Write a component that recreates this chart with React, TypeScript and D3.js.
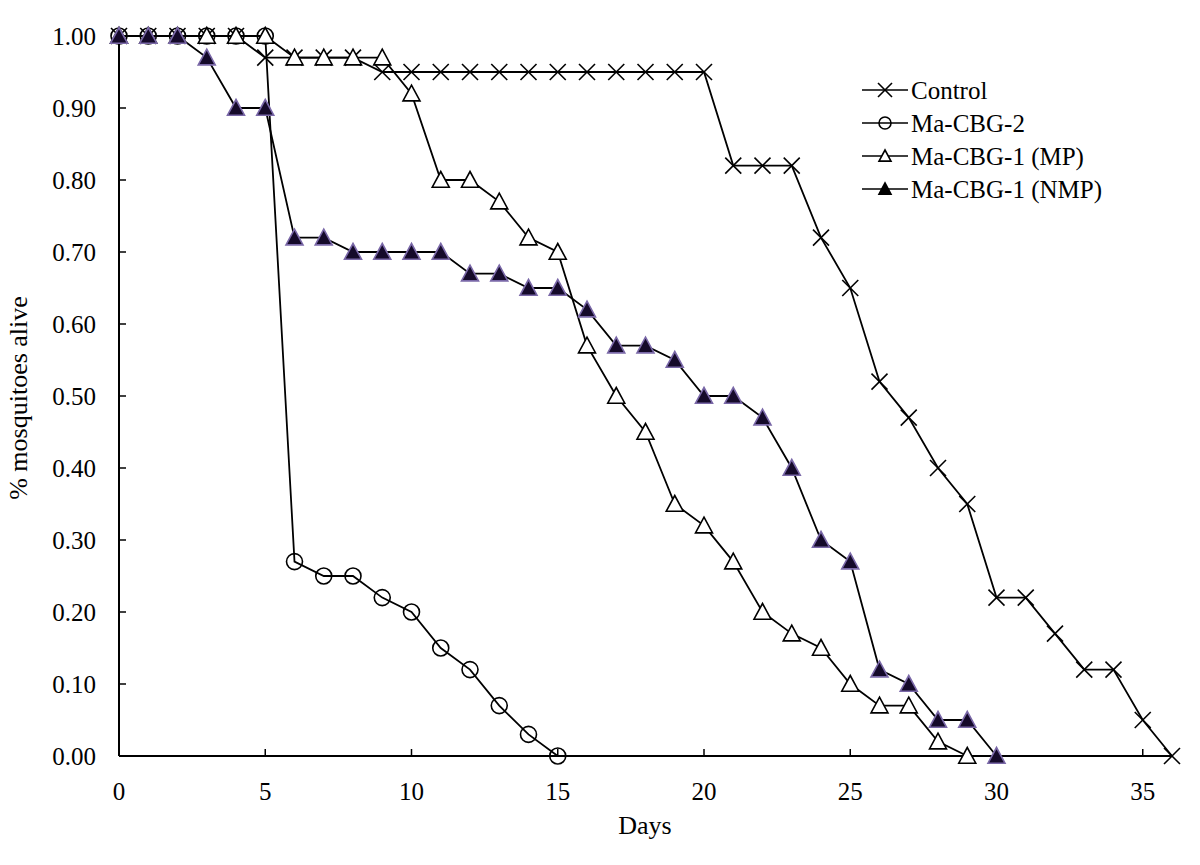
import React from "react";
import * as d3 from "d3";

const days = d3.range(0, 37);
const controlVals = [1, 1, 1, 1, 1, 0.97, 0.97, 0.97, 0.97, 0.95, 0.95, 0.95, 0.95, 0.95, 0.95, 0.95, 0.95, 0.95, 0.95, 0.95, 0.95, 0.82, 0.82, 0.82, 0.72, 0.65, 0.52, 0.47, 0.40, 0.35, 0.22, 0.22, 0.17, 0.12, 0.12, 0.05, 0];
const cbg2Vals = [1, 1, 1, 1, 1, 1, 0.27, 0.25, 0.25, 0.22, 0.20, 0.15, 0.12, 0.07, 0.03, 0];
const mpVals = [1, 1, 1, 1, 1, 1, 0.97, 0.97, 0.97, 0.97, 0.92, 0.80, 0.80, 0.77, 0.72, 0.70, 0.57, 0.50, 0.45, 0.35, 0.32, 0.27, 0.20, 0.17, 0.15, 0.10, 0.07, 0.07, 0.02, 0];
const nmpVals = [1, 1, 1, 0.97, 0.90, 0.90, 0.72, 0.72, 0.70, 0.70, 0.70, 0.70, 0.67, 0.67, 0.65, 0.65, 0.62, 0.57, 0.57, 0.55, 0.50, 0.50, 0.47, 0.40, 0.30, 0.27, 0.12, 0.10, 0.05, 0.05, 0];
const xTicks = [0, 5, 10, 15, 20, 25, 30, 35];
const yTicks = [0, 0.1, 0.2, 0.3, 0.4, 0.5, 0.6, 0.7, 0.8, 0.9, 1.0];
const seriesNames = ["Control", "Ma-CBG-2", "Ma-CBG-1 (MP)", "Ma-CBG-1 (NMP)"];
const markerTypes = ["x", "circle", "triOpen", "triFilled"];

const FONT = "'Liberation Serif', 'Times New Roman', serif";

function Marker({ type, x, y, legend }: { type: string; x: number; y: number; legend?: boolean }) {
  if (type === "x") {
    const s = legend ? 7 : 8;
    return (
      <g stroke="#000" strokeWidth={1.6}>
        <line x1={x - s} y1={y - s} x2={x + s} y2={y + s} />
        <line x1={x - s} y1={y + s} x2={x + s} y2={y - s} />
      </g>
    );
  }
  if (type === "circle") {
    const r = legend ? 6 : 8;
    return <circle cx={x} cy={y} r={r} fill="none" stroke="#000" strokeWidth={1.6} />;
  }
  const h = legend ? 6 : 8.5;
  const pts = `${x},${y - h} ${x + h},${y + h * 0.85} ${x - h},${y + h * 0.85}`;
  if (type === "triOpen") {
    return <polygon points={pts} fill="#fff" stroke="#000" strokeWidth={1.6} />;
  }
  return (
    <polygon
      points={pts}
      fill={legend ? "#000" : "#150a2a"}
      stroke={legend ? "#000" : "#7a68a8"}
      strokeWidth={1.6}
    />
  );
}

export default function App() {
  const width = 1200;
  const height = 865;
  const x = d3.scaleLinear().domain([0, 36]).range([119, 1172]);
  const y = d3.scaleLinear().domain([0, 1]).range([756, 36]);
  const allVals = [controlVals, cbg2Vals, mpVals, nmpVals];
  const line = d3
    .line<number>()
    .x((_, i) => x(days[i]))
    .y((d) => y(d));

  return (
    <svg
      width={width}
      height={height}
      style={{ position: "absolute", left: 0, top: 0, background: "#fff" }}
      fontFamily={FONT}
    >
      <rect x={0} y={0} width={width} height={height} fill="#fff" />
      <line x1={x(0)} y1={y(0)} x2={x(36)} y2={y(0)} stroke="#000" strokeWidth={2} />
      <line x1={x(0)} y1={y(0)} x2={x(0)} y2={y(1)} stroke="#000" strokeWidth={2} />
      {yTicks.map((t) => (
        <g key={"y" + t}>
          <line x1={x(0)} y1={y(t)} x2={x(0) + 7} y2={y(t)} stroke="#000" strokeWidth={1.5} />
          <text x={96} y={y(t)} dy="0.35em" textAnchor="end" fontSize={25}>
            {t.toFixed(2)}
          </text>
        </g>
      ))}
      {xTicks.map((t) => (
        <g key={"x" + t}>
          {t > 0 && (
            <line x1={x(t)} y1={y(0)} x2={x(t)} y2={y(0) - 7} stroke="#000" strokeWidth={1.5} />
          )}
          <text x={x(t)} y={791} dy="0.35em" textAnchor="middle" fontSize={25}>
            {t}
          </text>
        </g>
      ))}
      <text x={645} y={825} dy="0.35em" textAnchor="middle" fontSize={26}>
        Days
      </text>
      <text
        transform={`translate(18,398) rotate(-90)`}
        dy="0.35em"
        textAnchor="middle"
        fontSize={26}
      >
        % mosquitoes alive
      </text>

      {allVals.map((vals, si) => (
        <g key={"s" + si}>
          <path d={line(vals) || ""} fill="none" stroke="#000" strokeWidth={1.8} />
          {vals.map((v, i) => (
            <Marker key={i} type={markerTypes[si]} x={x(days[i])} y={y(v)} />
          ))}
        </g>
      ))}

      {seriesNames.map((name, i) => {
        const ly = 90 + i * 33;
        return (
          <g key={"l" + i}>
            <line x1={862} y1={ly} x2={908} y2={ly} stroke="#000" strokeWidth={1.6} />
            <Marker type={markerTypes[i]} x={885} y={ly} legend />
            <text x={911} y={ly} dy="0.35em" fontSize={25}>
              {name}
            </text>
          </g>
        );
      })}
    </svg>
  );
}
